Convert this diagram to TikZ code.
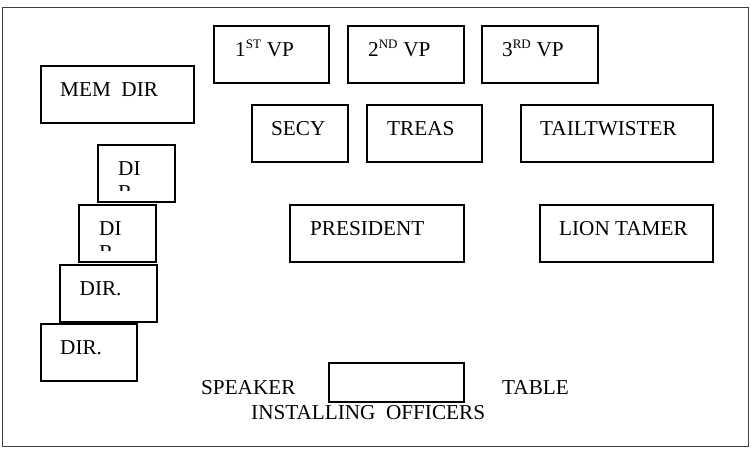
\documentclass[tikz,border=0pt]{standalone}
\usepackage{fontspec}
\setmainfont{Liberation Serif}
\begin{document}
\begin{tikzpicture}[x=1pt,y=-1pt,
  box/.style={draw=black,line width=1.6pt,fill=white,anchor=north west,inner sep=0pt},
  lbl/.style={anchor=base west,inner sep=0pt,font=\fontsize{21.2}{24}\selectfont}]
\useasboundingbox (0,0) rectangle (751,450);
\node[draw=black!75,line width=1pt,anchor=north west,inner sep=0pt,minimum width=746pt,minimum height=439pt] (frame) at (2,7) {};
% boxes
\node[box,minimum width=115pt,minimum height=57pt] (vp1) at (213,25) {};
\node[box,minimum width=116pt,minimum height=57pt] (vp2) at (347,25) {};
\node[box,minimum width=116pt,minimum height=57pt] (vp3) at (481,25) {};
\node[box,minimum width=153pt,minimum height=57pt] (mem) at (40,65) {};
\node[box,minimum width=96pt,minimum height=57pt] (secy) at (251,104) {};
\node[box,minimum width=115pt,minimum height=57pt] (treas) at (366,104) {};
\node[box,minimum width=192pt,minimum height=57pt] (tail) at (520,104) {};
\node[box,minimum width=77pt,minimum height=57pt] (dir1) at (97,144) {};
\node[box,minimum width=77pt,minimum height=57pt] (dir2) at (78,204) {};
\node[box,minimum width=97pt,minimum height=57pt] (dir3) at (59,264) {};
\node[box,minimum width=96pt,minimum height=57pt] (dir4) at (40,323) {};
\node[box,minimum width=174pt,minimum height=57pt] (pres) at (289,204) {};
\node[box,minimum width=173pt,minimum height=57pt] (lion) at (539,204) {};
\node[box,minimum width=135pt,minimum height=39pt] (table) at (328,362) {};
% labels
\node[lbl] (tvp1) at (235,56) {1\textsuperscript{\fontsize{13}{13}\selectfont ST} VP};
\node[lbl] (tvp2) at (368,56) {2\textsuperscript{\fontsize{13}{13}\selectfont ND} VP};
\node[lbl] (tvp3) at (502,56) {3\textsuperscript{\fontsize{13}{13}\selectfont RD} VP};
\node[lbl] (tmem) at (60,96) {MEM\ \ DIR};
\node[lbl] (tsecy) at (271,135) {SECY};
\node[lbl] (ttreas) at (387,135) {TREAS};
\node[lbl] (ttail) at (540,135) {TAILTWISTER};
\node[lbl] (tdir1) at (118,175) {DI};
\begin{scope}
\clip (100,150) rectangle (170,190);
\node[lbl] (tdir1b) at (118,199.5) {R};
\end{scope}
\node[lbl] (tdir2) at (99,235) {DI};
\begin{scope}
\clip (80,210) rectangle (150,250);
\node[lbl] (tdir2b) at (99,259.5) {R};
\end{scope}
\node[lbl] (tdir3) at (79.5,295) {DIR.};
\node[lbl] (tdir4) at (60,354) {DIR.};
\node[lbl] (tpres) at (310,235) {PRESIDENT};
\node[lbl] (tlion) at (559,235) {LION TAMER};
\node[lbl] (tspk) at (201,394) {SPEAKER};
\node[lbl] (ttab) at (502,394) {TABLE};
\node[lbl] (tinst) at (251,419) {INSTALLING\ \ OFFICERS};
\end{tikzpicture}
\end{document}
